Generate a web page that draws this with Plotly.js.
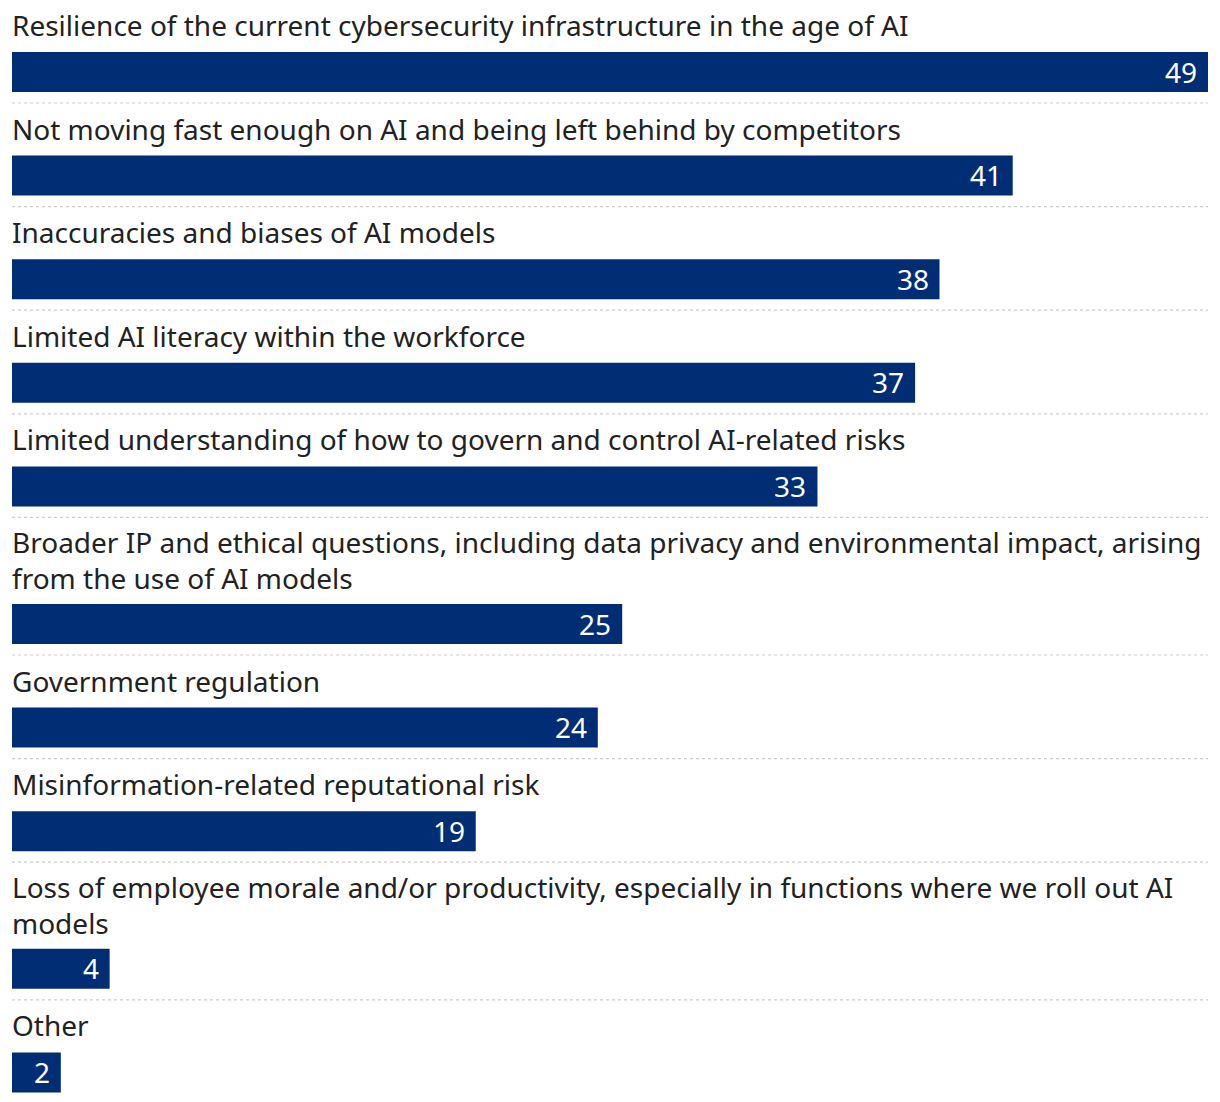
<!DOCTYPE html>
<html>
<head>
<meta charset="utf-8">
<script src="https://cdn.plot.ly/plotly-3.0.1.min.js"></script>
<style>html,body{margin:0;padding:0;background:#fff;}#chart{width:1220px;height:1102px;}</style>
</head>
<body>
<div id="chart"></div>
<script>
const categories = [
  "Resilience of the current cybersecurity infrastructure in the age of AI",
  "Not moving fast enough on AI and being left behind by competitors",
  "Inaccuracies and biases of AI models",
  "Limited AI literacy within the workforce",
  "Limited understanding of how to govern and control AI-related risks",
  "Broader IP and ethical questions, including data privacy and environmental impact, arising<br>from the use of AI models",
  "Government regulation",
  "Misinformation-related reputational risk",
  "Loss of employee morale and/or productivity, especially in functions where we roll out AI<br>models",
  "Other"
];
const values = [49, 41, 38, 37, 33, 25, 24, 19, 4, 2];

// layout computation (pixel units on a reversed y axis)
const W = 1220, H = 1102;
const ROW = 103.6, LINE = 34, BAR = 40, FS = 28;
const barTops = [];
let extra = 0;
categories.forEach((c, i) => {
  const lines = c.split("<br>").length;
  extra += (lines - 1);
  barTops.push(52 + ROW * i + LINE * extra);
});
const barCenters = barTops.map(t => t + BAR / 2);

const annotations = [];
const shapes = [];
categories.forEach((c, i) => {
  const n = c.split("<br>").length;
  annotations.push({
    x: 0, y: barTops[i] - 27 - LINE * (n - 1) / 2, xref: "x", yref: "y",
    text: c, showarrow: false, xanchor: "left", yanchor: "middle",
    xshift: -2, align: "left",
    font: {family: "Noto Sans, sans-serif", size: FS, color: "#222222"}
  });
  annotations.push({
    x: values[i], y: barCenters[i] - 0.5, xref: "x", yref: "y",
    text: String(values[i]), showarrow: false, xanchor: "right", yanchor: "middle",
    xshift: -9,
    font: {family: "Noto Sans, sans-serif", size: FS, color: "#ffffff"}
  });
  if (i < categories.length - 1) {
    const sy = barTops[i] + BAR + 11;
    shapes.push({
      type: "line", xref: "paper", yref: "y", x0: 0, x1: 1, y0: sy, y1: sy,
      line: {color: "#cccccc", width: 1.2, dash: "dot"}
    });
  }
});

const trace = {
  type: "bar", orientation: "h",
  x: values, y: barCenters, width: BAR,
  marker: {color: "#002d74"},
  hoverinfo: "skip"
};

const layout = {
  width: W, height: H,
  margin: {l: 12, r: 12, t: 0, b: 0},
  paper_bgcolor: "#ffffff", plot_bgcolor: "#ffffff",
  showlegend: false,
  xaxis: {range: [0, 49], visible: false, fixedrange: true},
  yaxis: {range: [H, 0], visible: false, fixedrange: true},
  annotations: annotations,
  shapes: shapes,
  font: {family: "Noto Sans, sans-serif"}
};

Plotly.newPlot("chart", [trace], layout, {displayModeBar: false, staticPlot: true});
</script>
</body>
</html>
